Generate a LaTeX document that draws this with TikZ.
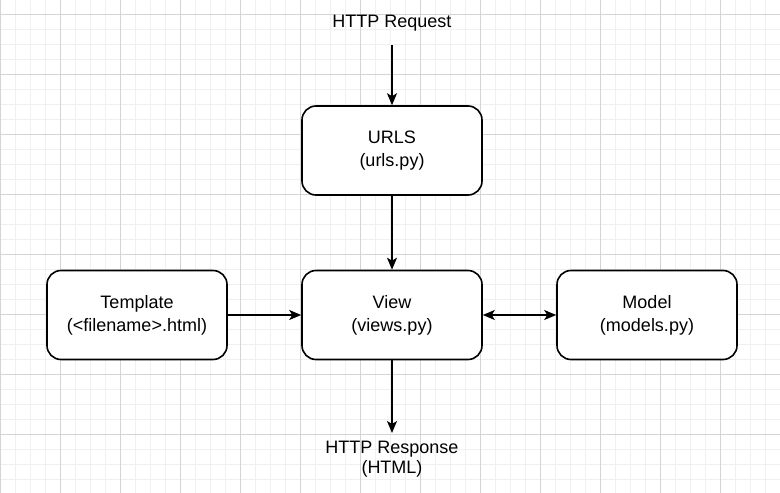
\documentclass[tikz,border=0pt]{standalone}
\usepackage{fontspec}
\setmainfont{Liberation Sans}
\usetikzlibrary{arrows.meta}
\tikzset{
  minorgrid/.style={draw=black!6,line width=1pt},
  majorgrid/.style={draw=black!17,line width=1pt},
  block/.style={draw,rounded corners=14pt,line width=1.6pt,fill=white,minimum width=180pt,minimum height=89pt,align=center,font=\fontsize{18}{23}\selectfont},
  label/.style={align=center,font=\fontsize{18}{20}\selectfont},
  arr/.style={line width=1.6pt,-{Stealth[length=12pt,width=10pt,inset=3pt]}},
  dblarr/.style={line width=1.6pt,{Stealth[length=12pt,width=10pt,inset=3pt]}-{Stealth[length=12pt,width=10pt,inset=3pt]}}
}
\begin{document}
\begin{tikzpicture}[x=1pt,y=-1pt]
			\useasboundingbox[fill=white] (0,0) rectangle (780,493);
			% grid
			\foreach \gx in {0,15,...,780} \draw[minorgrid] (\gx,0)--(\gx,493);
			\foreach \gy in {-0.5,14.5,...,493} \draw[minorgrid] (0,\gy)--(780,\gy);
			\foreach \gx in {0,60,...,780} \draw[majorgrid] (\gx,0)--(\gx,493);
			\foreach \gy in {14.5,74.5,...,493} \draw[majorgrid] (0,\gy)--(780,\gy);
			% blocks
			\node[block] (urls) at (392,150.5) {URLS\\(urls.py)};
			\node[block] (view) at (392,315) {View\\(views.py)};
			\node[block] (template) at (137,315) {Template\\(<filename>.html)};
			\node[block] (model) at (647,315) {Model\\(models.py)};
			\node[label] (request) at (392,23) {HTTP Request};
			\node[label] (response) at (392,459) {HTTP Response\\(HTML)};
			\coordinate (reqend) at (392,45);
			\coordinate (respend) at (392,433);
			% arrows
			\draw[arr] (reqend)--(urls);
			\draw[arr] (urls)--(view);
			\draw[arr] (template)--(view);
			\draw[dblarr] (view)--(model);
			\draw[arr] (view)--(respend);
		    \end{tikzpicture}
\end{document}
